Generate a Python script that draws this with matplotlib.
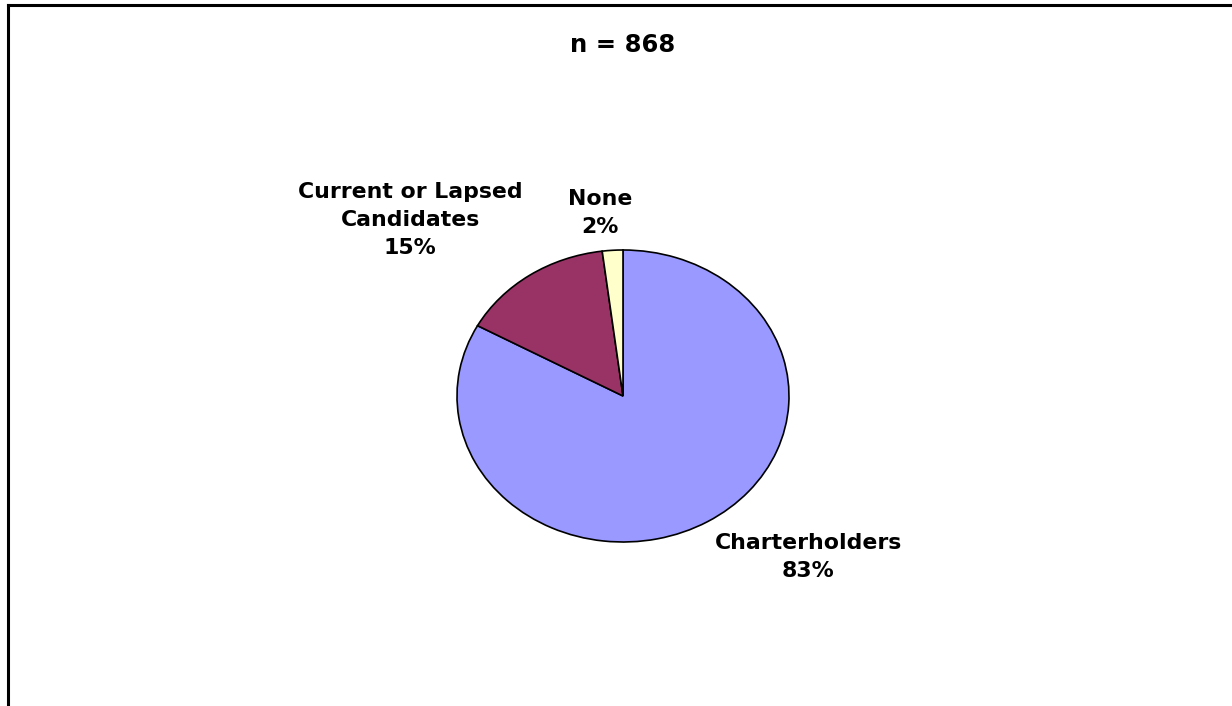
import matplotlib.pyplot as plt
from matplotlib.lines import Line2D

# data
labels = ["Charterholders", "Current or Lapsed\nCandidates", "None"]
shares = [83, 15, 2]
colors = ["#9999FF", "#993366", "#FFFFCC"]
title = "n = 868"

W, H = 1232, 706
fig = plt.figure(figsize=(W / 100, H / 100), dpi=100)
plt.rcParams['font.family'] = ['DejaVu Sans']


def fx(px):
    return px / W


def fy(py):
    return 1 - py / H


# pie is drawn as an ellipse: stretch axes in pixels
cx, cy, rx, ry = 623, 396, 166, 146
ax = fig.add_axes([fx(cx - rx), fy(cy + ry), 2 * rx / W, 2 * ry / H])
ax.pie(shares, colors=colors, startangle=90, counterclock=False,
       wedgeprops=dict(edgecolor="black", linewidth=1.2), radius=1)
ax.set_aspect('auto')
ax.set_xlim(-1, 1)
ax.set_ylim(-1, 1)
ax.axis('off')

# label positions (pixel centres)
label_pos = [(808, 557), (410, 220), (600, 213)]
for lab, s, (px, py) in zip(labels, shares, label_pos):
    fig.text(fx(px), fy(py), f"{lab}\n{s}%", ha='center', va='center',
             fontsize=15.8, fontweight='bold', linespacing=1.52)

fig.text(fx(623), fy(45), title, ha='center', va='center',
         fontsize=17.5, fontweight='bold')

# chart frame (top and left edges visible)
fig.add_artist(Line2D([fx(8), 1], [fy(5), fy(5)], color='black', linewidth=2.2))
fig.add_artist(Line2D([fx(8), fx(8)], [fy(5), 0], color='black', linewidth=2.2))

fig.savefig("out.png", dpi=100)
